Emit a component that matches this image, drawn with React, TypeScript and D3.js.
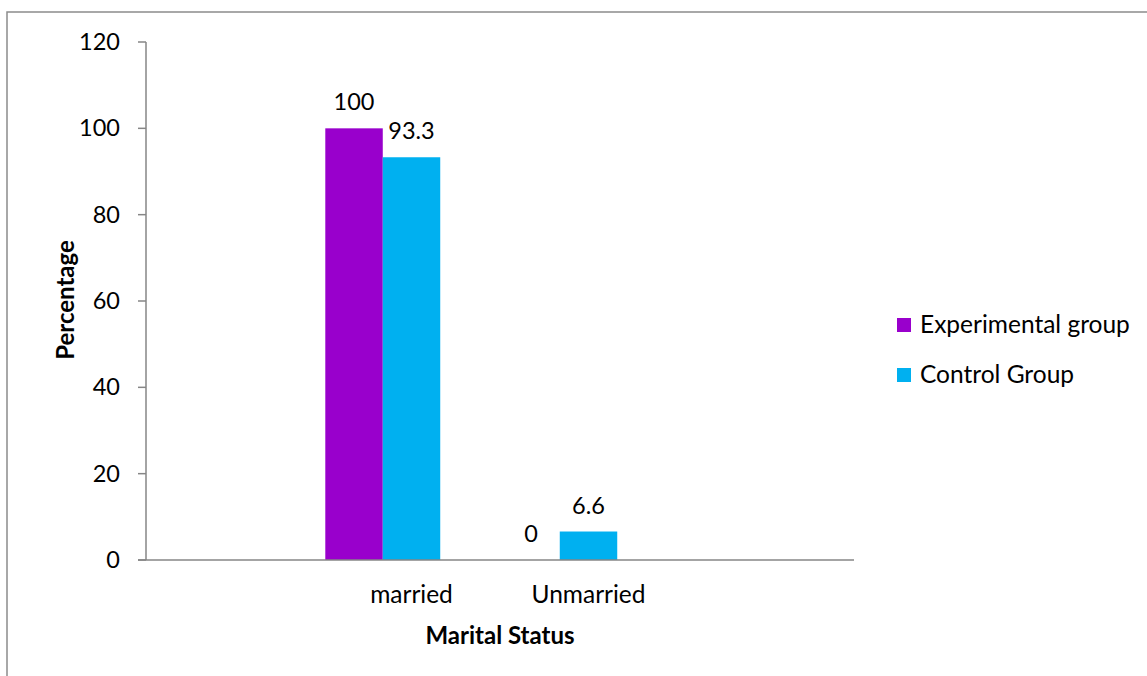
import React from 'react';
import * as d3 from 'd3';

// Marital status of study participants, percentage per group
const categories = ['married', 'Unmarried'];
const seriesNames = ['Experimental group', 'Control Group'];
const experimentalValues = [100, 0];
const controlValues = [93.3, 6.6];
const yTickValues = [0, 20, 40, 60, 80, 100, 120];
const seriesColors = ['#9900CC', '#00B0F0'];

const W = 1147;
const H = 676;
const FONT = 'Lato, "Open Sans", sans-serif';
const AXIS_GRAY = '#868686';

export default function App() {
  const plot = { left: 146, right: 854, top: 42, bottom: 560 };

  const x0 = d3
    .scaleBand<string>()
    .domain(categories)
    .range([plot.left, plot.right])
    .paddingInner(0)
    .paddingOuter(1);

  // three slots per category; the last one stays empty
  const x1 = d3
    .scaleBand<string>()
    .domain([...seriesNames, 'empty'])
    .range([0, x0.bandwidth()])
    .paddingInner(0)
    .paddingOuter(0.04);

  const y = d3.scaleLinear().domain([0, 120]).range([plot.bottom, plot.top]);

  const seriesValues = [experimentalValues, controlValues];

  return (
    <svg
      width={W}
      height={H}
      style={{ position: 'absolute', left: 0, top: 0, background: '#fff' }}
      fontFamily={FONT}
    >
      <rect x={0} y={0} width={W} height={H} fill="#fff" />
      {/* chart frame */}
      <rect
        x={7}
        y={12}
        width={W + 20}
        height={H + 20}
        fill="none"
        stroke="#8c8c8c"
        strokeWidth={1.5}
      />

      {/* bars */}
      {categories.map((c, ci) =>
        seriesNames.map((s, si) => {
          const v = seriesValues[si][ci];
          const bx = (x0(c) as number) + (x1(s) as number);
          return (
            <rect
              key={c + s}
              x={bx}
              y={y(v)}
              width={x1.bandwidth()}
              height={plot.bottom - y(v)}
              fill={seriesColors[si]}
            />
          );
        })
      )}

      {/* value labels */}
      {categories.map((c, ci) =>
        seriesNames.map((s, si) => {
          const v = seriesValues[si][ci];
          const cx = (x0(c) as number) + (x1(s) as number) + x1.bandwidth() / 2;
          return (
            <text
              key={'l' + c + s}
              x={cx}
              y={y(v) - 18}
              textAnchor="middle"
              fontSize={23.5}
              fill="#000"
            >
              {String(v)}
            </text>
          );
        })
      )}

      {/* y axis */}
      <line x1={plot.left} x2={plot.left} y1={plot.top} y2={plot.bottom} stroke={AXIS_GRAY} strokeWidth={1.5} />
      {yTickValues.map((t) => (
        <g key={t}>
          <line x1={plot.left - 8} x2={plot.left} y1={y(t)} y2={y(t)} stroke={AXIS_GRAY} strokeWidth={1.5} />
          <text x={120} y={y(t) + 8} textAnchor="end" fontSize={23.5} fill="#000">
            {t}
          </text>
        </g>
      ))}

      {/* x axis */}
      <line x1={plot.left - 8} x2={plot.right} y1={plot.bottom} y2={plot.bottom} stroke={AXIS_GRAY} strokeWidth={1.5} />
      {categories.map((c) => (
        <text
          key={'c' + c}
          x={(x0(c) as number) + x0.bandwidth() / 2}
          y={603}
          textAnchor="middle"
          fontSize={24.5}
          fill="#000"
        >
          {c}
        </text>
      ))}

      {/* axis titles */}
      <text x={500} y={644} textAnchor="middle" fontSize={24} fontWeight="bold" fill="#000">
        Marital Status
      </text>
      <text
        transform="translate(74,300) rotate(-90)"
        textAnchor="middle"
        fontSize={24}
        fontWeight="bold"
        fill="#000"
      >
        Percentage
      </text>

      {/* legend */}
      {seriesNames.map((s, i) => (
        <g key={'lg' + s} transform={`translate(897,${318 + i * 50})`}>
          <rect x={0} y={0} width={14} height={14} fill={seriesColors[i]} />
          <text x={23} y={15} fontSize={24.5} fill="#000">
            {s}
          </text>
        </g>
      ))}
    </svg>
  );
}
